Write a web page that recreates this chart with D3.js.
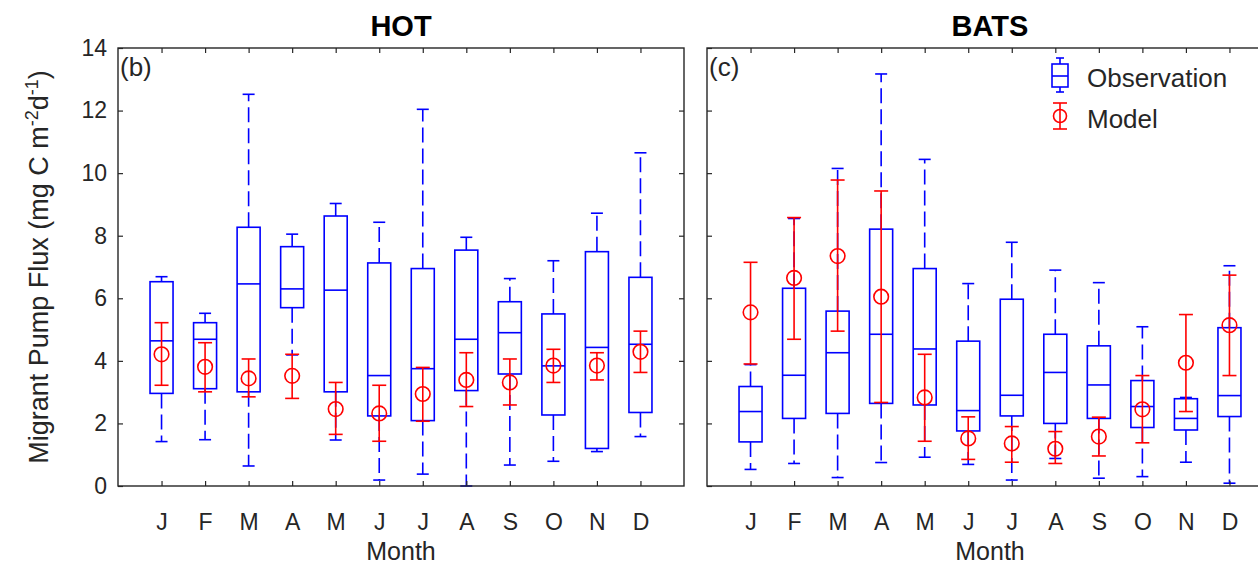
<!DOCTYPE html>
<html>
<head>
<meta charset="utf-8">
<script src="https://cdn.jsdelivr.net/npm/d3@7"></script>
<style>
  body { margin: 0; background: #fff; }
  svg { display: block; font-family: "Liberation Sans", Arial, Helvetica, sans-serif; }
</style>
</head>
<body>
<svg id="chart" width="1258" height="565"></svg>
<script>
// month tick labels
const MONTHS = ["J", "F", "M", "A", "M", "J", "J", "A", "S", "O", "N", "D"];

const HOT_LO  = [1.42, 1.48, 0.64, 4.19, 1.47, 0.19, 0.38, 0.00, 0.67, 0.79, 1.10, 1.58];
const HOT_Q1  = [2.96, 3.11, 3.01, 5.70, 3.01, 2.24, 2.09, 3.05, 3.58, 2.27, 1.20, 2.35];
const HOT_MED = [4.64, 4.69, 6.46, 6.30, 6.26, 3.53, 3.75, 4.69, 4.90, 3.84, 4.43, 4.53];
const HOT_Q3  = [6.53, 5.22, 8.27, 7.65, 8.63, 7.13, 6.95, 7.54, 5.89, 5.50, 7.49, 6.67];
const HOT_HI  = [6.69, 5.52, 12.52, 8.05, 9.03, 8.43, 12.04, 7.95, 6.63, 7.20, 8.72, 10.65];
// HOT model mean and error bar ends
const HOT_MOD    = [4.21, 3.81, 3.44, 3.52, 2.46, 2.32, 2.94, 3.39, 3.31, 3.85, 3.85, 4.29];
const HOT_MOD_LO = [3.22, 3.01, 2.85, 2.80, 1.65, 1.43, 2.07, 2.54, 2.59, 3.31, 3.39, 3.63];
const HOT_MOD_HI = [5.22, 4.58, 4.06, 4.21, 3.31, 3.22, 3.79, 4.26, 4.06, 4.37, 4.26, 4.95];

// BATS observations
const BATS_LO  = [0.53, 0.72, 0.27, 0.75, 0.92, 0.69, 0.19, 0.88, 0.25, 0.30, 0.76, 0.09];
const BATS_Q1  = [1.41, 2.16, 2.32, 2.64, 2.59, 1.76, 2.24, 2.00, 2.16, 1.87, 1.79, 2.22];
const BATS_MED = [2.38, 3.54, 4.26, 4.85, 4.38, 2.41, 2.90, 3.63, 3.23, 2.54, 2.16, 2.89];
const BATS_Q3  = [3.18, 6.32, 5.59, 8.21, 6.95, 4.63, 5.97, 4.85, 4.48, 3.37, 2.79, 5.06];
const BATS_HI  = [3.88, 8.55, 10.15, 13.17, 10.44, 6.47, 7.79, 6.90, 6.50, 5.09, 2.83, 7.04];
// BATS model
const BATS_MOD    = [5.55, 6.65, 7.35, 6.05, 2.83, 1.52, 1.36, 1.19, 1.58, 2.45, 3.94, 5.14];
const BATS_MOD_LO = [3.90, 4.69, 4.95, 2.67, 1.43, 0.85, 0.76, 0.72, 0.96, 1.38, 2.38, 3.53];
const BATS_MOD_HI = [7.15, 8.58, 9.78, 9.43, 4.21, 2.21, 1.90, 1.74, 2.20, 3.53, 5.48, 6.74];

const Y_TICKS = [0, 2, 4, 6, 8, 10, 12, 14];

const BLUE = "#0000ff", RED = "#ff0000", AX = "#262626";
const PLOT_TOP = 48, PLOT_BOTTOM = 486;

const svg = d3.select("#chart");

function panel(opts) {
    const x = d3.scaleLinear().domain([0, 13]).range([opts.left, opts.right]);
    const y = d3.scaleLinear().domain([0, 14]).range([PLOT_BOTTOM, PLOT_TOP]);
    const g = svg.append("g");
    const months = d3.range(1, 13);
    const boxW = 23, capW = 12, errCap = 14;

    const obs = months.map((m, i) => ({
        m: m, lo: opts.lo[i], q1: opts.q1[i], med: opts.med[i], q3: opts.q3[i], hi: opts.hi[i]
    }));
    const mod = months.map((m, i) => ({
        m: m, v: opts.mod[i], lo: opts.modLo[i], hi: opts.modHi[i]
    }));

    // observation boxes
    const b = g.selectAll("g.box").data(obs).enter().append("g")
        .attr("stroke", BLUE).attr("stroke-width", 1.6).attr("fill", "none");
    b.append("line")
        .attr("x1", d => x(d.m)).attr("x2", d => x(d.m))
        .attr("y1", d => y(d.q3)).attr("y2", d => y(d.hi))
        .attr("stroke-dasharray", "15,6");
    b.append("line")
        .attr("x1", d => x(d.m)).attr("x2", d => x(d.m))
        .attr("y1", d => y(d.q1)).attr("y2", d => y(d.lo))
        .attr("stroke-dasharray", "15,6");
    b.append("line")
        .attr("x1", d => x(d.m) - capW / 2).attr("x2", d => x(d.m) + capW / 2)
        .attr("y1", d => y(d.hi)).attr("y2", d => y(d.hi));
    b.append("line")
        .attr("x1", d => x(d.m) - capW / 2).attr("x2", d => x(d.m) + capW / 2)
        .attr("y1", d => y(d.lo)).attr("y2", d => y(d.lo));
    b.append("rect")
        .attr("x", d => x(d.m) - boxW / 2).attr("width", boxW)
        .attr("y", d => y(d.q3)).attr("height", d => y(d.q1) - y(d.q3));
    b.append("line")
        .attr("x1", d => x(d.m) - boxW / 2).attr("x2", d => x(d.m) + boxW / 2)
        .attr("y1", d => y(d.med)).attr("y2", d => y(d.med));

    // model error bars
    const e = g.selectAll("g.err").data(mod).enter().append("g")
        .attr("stroke", RED).attr("stroke-width", 1.6).attr("fill", "none");
    e.append("line")
        .attr("x1", d => x(d.m)).attr("x2", d => x(d.m))
        .attr("y1", d => y(d.lo)).attr("y2", d => y(d.hi));
    e.append("line")
        .attr("x1", d => x(d.m) - errCap / 2).attr("x2", d => x(d.m) + errCap / 2)
        .attr("y1", d => y(d.lo)).attr("y2", d => y(d.lo));
    e.append("line")
        .attr("x1", d => x(d.m) - errCap / 2).attr("x2", d => x(d.m) + errCap / 2)
        .attr("y1", d => y(d.hi)).attr("y2", d => y(d.hi));
    e.append("circle")
        .attr("cx", d => x(d.m)).attr("cy", d => y(d.v)).attr("r", 7.3);

    // axes, ticks pointing inward on all four sides
    g.append("g").attr("transform", "translate(0," + PLOT_BOTTOM + ")")
        .call(d3.axisBottom(x).tickValues(months).tickSize(-5).tickPadding(28)
            .tickFormat((d, i) => MONTHS[i]));
    g.append("g").attr("transform", "translate(0," + PLOT_TOP + ")")
        .call(d3.axisTop(x).tickValues(months).tickSize(-5).tickFormat(""));
    g.append("g").attr("transform", "translate(" + opts.left + ",0)")
        .call(d3.axisLeft(y).tickValues(Y_TICKS).tickSize(-5).tickPadding(11)
            .tickFormat(opts.yLabels ? d3.format("d") : ""));
    g.append("g").attr("transform", "translate(" + opts.right + ",0)")
        .call(d3.axisRight(y).tickValues(Y_TICKS.slice(1, -1)).tickSize(-5).tickFormat(""));
    g.selectAll(".domain").remove();
    g.selectAll(".tick line").attr("stroke", AX).attr("stroke-width", 1.2);
    g.selectAll(".tick text").attr("fill", AX).style("font-size", "23px")
        .style("font-family", "'Liberation Sans', Arial, sans-serif");

    g.append("rect")
        .attr("x", opts.left).attr("y", PLOT_TOP)
        .attr("width", opts.right - opts.left).attr("height", PLOT_BOTTOM - PLOT_TOP)
        .attr("fill", "none").attr("stroke", AX).attr("stroke-width", 1.4);

    // title, panel letter, x label
    const cx = (opts.left + opts.right) / 2;
    g.append("text").attr("x", cx).attr("y", 36).attr("text-anchor", "middle")
        .attr("font-weight", "bold").attr("font-size", 29).attr("fill", "#000")
        .text(opts.title);
    g.append("text").attr("x", opts.left + 2).attr("y", 76)
        .attr("font-size", 26).attr("fill", AX).text(opts.tag);
    g.append("text").attr("x", cx).attr("y", 559.5).attr("text-anchor", "middle")
        .attr("font-size", 25).attr("fill", AX).text("Month");
}

panel({
    left: 118, right: 684, title: "HOT", tag: "(b)", yLabels: true,
    lo: HOT_LO, q1: HOT_Q1, med: HOT_MED, q3: HOT_Q3, hi: HOT_HI,
    mod: HOT_MOD, modLo: HOT_MOD_LO, modHi: HOT_MOD_HI
});
panel({
    left: 707, right: 1273, title: "BATS", tag: "(c)", yLabels: false,
    lo: BATS_LO, q1: BATS_Q1, med: BATS_MED, q3: BATS_Q3, hi: BATS_HI,
    mod: BATS_MOD, modLo: BATS_MOD_LO, modHi: BATS_MOD_HI
});

// y-axis label with superscripts
const yLabel = svg.append("text")
    .attr("transform", "translate(48,267) rotate(-90)")
    .attr("text-anchor", "middle").attr("font-size", 27).attr("fill", AX);
yLabel.append("tspan").text("Migrant Pump Flux (mg C m");
yLabel.append("tspan").attr("dy", -10).attr("font-size", 18).text("-2");
yLabel.append("tspan").attr("dy", 10).text("d");
yLabel.append("tspan").attr("dy", -10).attr("font-size", 18).text("-1");
yLabel.append("tspan").attr("dy", 10).text(")");

// legend
const lg = svg.append("g");
const lx = 1060;
lg.append("line").attr("x1", lx).attr("x2", lx).attr("y1", 58).attr("y2", 92)
    .attr("stroke", BLUE).attr("stroke-width", 1.6);
lg.append("rect").attr("x", lx - 8).attr("y", 64).attr("width", 16).attr("height", 23)
    .attr("fill", "#fff").attr("stroke", BLUE).attr("stroke-width", 1.6);
[58, 76, 92].forEach((yy, i) => {
    const w = i === 1 ? 8 : 4;
    lg.append("line").attr("x1", lx - w).attr("x2", lx + w).attr("y1", yy).attr("y2", yy)
        .attr("stroke", BLUE).attr("stroke-width", 1.6);
});
lg.append("line").attr("x1", lx).attr("x2", lx).attr("y1", 103).attr("y2", 129)
    .attr("stroke", RED).attr("stroke-width", 1.6);
[103, 129].forEach(yy => {
    lg.append("line").attr("x1", lx - 7).attr("x2", lx + 7).attr("y1", yy).attr("y2", yy)
        .attr("stroke", RED).attr("stroke-width", 1.6);
});
lg.append("circle").attr("cx", lx).attr("cy", 116).attr("r", 6.5)
    .attr("fill", "none").attr("stroke", RED).attr("stroke-width", 1.6);
lg.append("text").attr("x", 1087).attr("y", 87).attr("font-size", 26).attr("fill", AX)
    .text("Observation");
lg.append("text").attr("x", 1087).attr("y", 128).attr("font-size", 26).attr("fill", AX)
    .text("Model");
</script>
</body>
</html>
